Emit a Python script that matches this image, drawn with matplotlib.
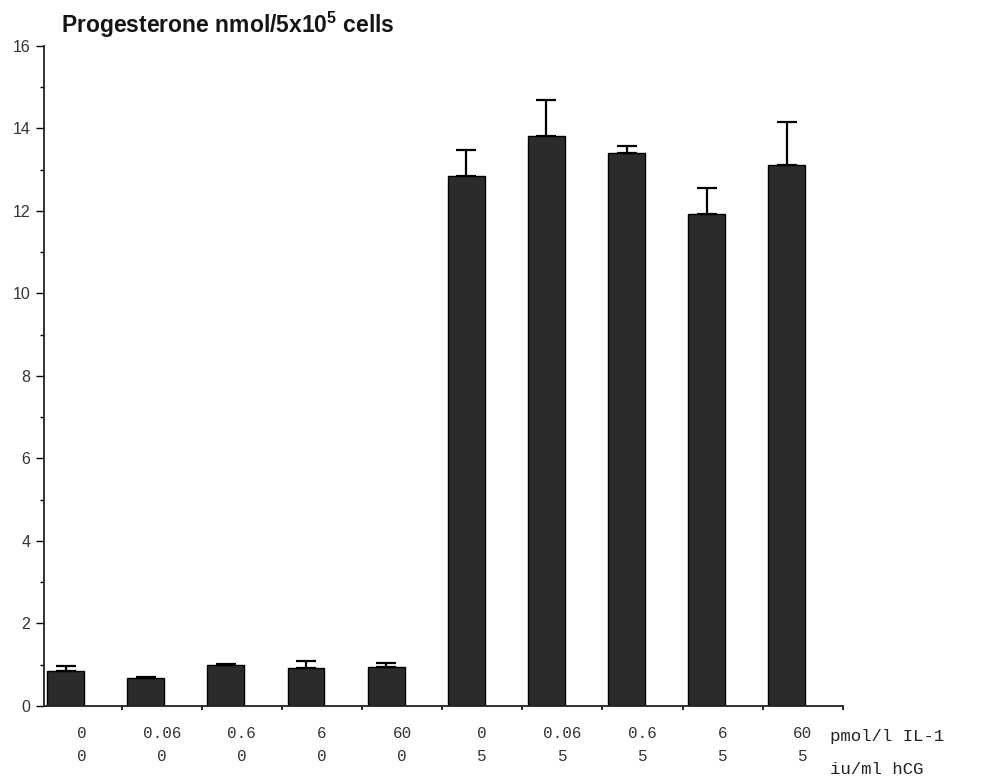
#!/usr/bin/env python3
"""Progesterone production by cells with IL-1 / hCG treatment - bar chart."""

import matplotlib
matplotlib.use("Agg")
import matplotlib.pyplot as plt
import numpy as np

# ---------------------------------------------------------------------------
# Data
# ---------------------------------------------------------------------------

IL1_LABELS = ["0", "0.06", "0.6", "6", "60", "0", "0.06", "0.6", "6", "60"]
HCG_LABELS = ["0", "0", "0", "0", "0", "5", "5", "5", "5", "5"]
MEANS = [0.85, 0.67, 0.99, 0.93, 0.95, 12.84, 13.83, 13.40, 11.92, 13.12]
ERRS = [0.12, 0.03, 0.02, 0.15, 0.10, 0.64, 0.85, 0.18, 0.63, 1.03]

BAR_COLOR = "#2b2b2b"


def main():
    fig = plt.figure(figsize=(9.85, 7.77), dpi=100)
    ax = fig.add_axes([0.0447, 0.0914, 0.811, 0.8494])

    x = np.arange(len(MEANS))
    ax.bar(x, MEANS, width=0.46, color=BAR_COLOR, edgecolor="black",
           linewidth=1.0, zorder=2)
    ax.errorbar(x, MEANS, yerr=[np.zeros(len(ERRS)), ERRS], fmt="none",
                ecolor="black", elinewidth=1.6, capsize=7, capthick=1.6,
                zorder=3)

    ax.set_xlim(-0.27, 9.7)
    ax.set_ylim(0, 16)

    # spines
    for side in ("top", "right"):
        ax.spines[side].set_visible(False)
    for side in ("left", "bottom"):
        ax.spines[side].set_linewidth(1.3)
        ax.spines[side].set_color("#222222")

    # y ticks
    ax.set_yticks(np.arange(0, 17, 2))
    ax.set_yticks(np.arange(1, 16, 2), minor=True)
    ax.tick_params(axis="y", which="major", direction="out", length=6,
                   width=1.0, labelsize=11.5, labelcolor="#333333", pad=4)
    ax.tick_params(axis="y", which="minor", direction="out", length=3,
                   width=1.0)
    for lbl in ax.get_yticklabels():
        lbl.set_family("Liberation Sans")

    # x ticks between categories, labels drawn as text
    ax.set_xticks(x + 0.7)
    ax.set_xticklabels([])
    ax.tick_params(axis="x", direction="out", length=3, width=1.2)

    trans = ax.get_xaxis_transform()
    for i in range(len(x)):
        ax.text(i + 0.2, -0.041, IL1_LABELS[i], transform=trans, ha="center",
                va="center", fontsize=11.5, family="Liberation Mono",
                color="#333333")
        ax.text(i + 0.2, -0.076, HCG_LABELS[i], transform=trans, ha="center",
                va="center", fontsize=11.5, family="Liberation Mono",
                color="#333333")

    fig.text(830 / 985, 1 - 737 / 777, "pmol/l IL-1", ha="left", va="center",
             fontsize=12.5, family="Liberation Mono", color="#222222")
    fig.text(830 / 985, 1 - 769 / 777, "iu/ml hCG", ha="left", va="center",
             fontsize=12.5, family="Liberation Mono", color="#222222")

    fig.text(61 / 985, 1 - 33 / 777,
             r"Progesterone nmol/5x10$\mathregular{^{5}}$ cells",
             ha="left", va="baseline", fontsize=16.5, fontweight="bold",
             family="Liberation Sans", color="#151515")

    fig.savefig("out.png", dpi=100)
    plt.close(fig)


if __name__ == "__main__":
    main()
